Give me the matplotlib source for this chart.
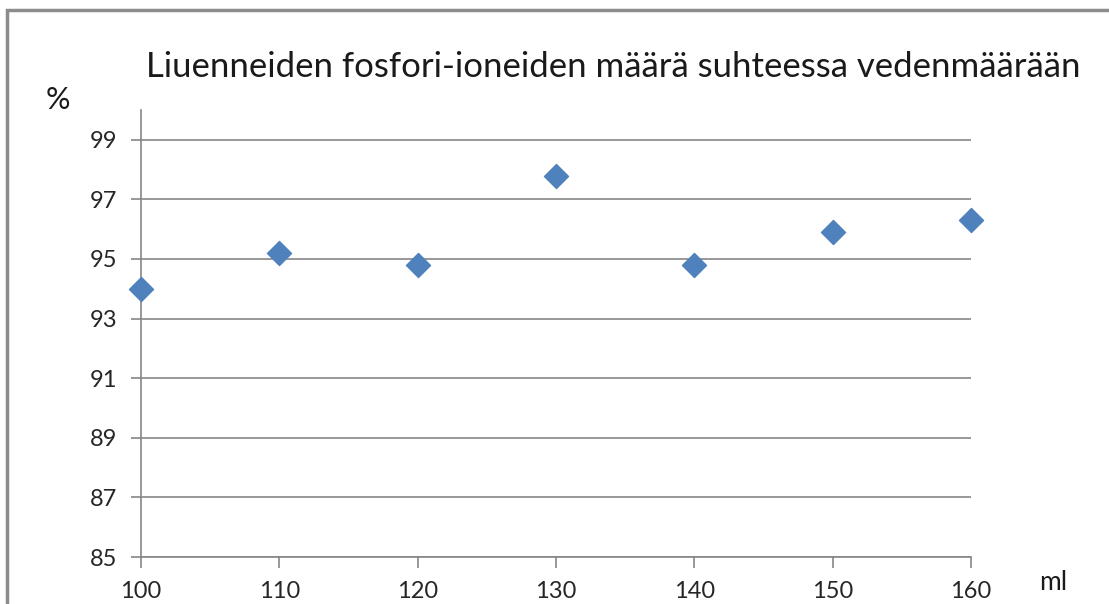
import matplotlib.pyplot as plt
from matplotlib.patches import Rectangle

# data
volume_ml = [100, 110, 120, 130, 140, 150, 160]
dissolved_pct = [94.0, 95.2, 94.8, 97.8, 94.8, 95.9, 96.3]
y_ticks = [85, 87, 89, 91, 93, 95, 97, 99]
x_ticks = [100, 110, 120, 130, 140, 150, 160]

plt.rcParams['font.family'] = ['Lato', 'DejaVu Sans']

fig = plt.figure(figsize=(11.09, 6.04), dpi=100)
ax = fig.add_axes([0.1271, 0.0778, 0.8756 - 0.1271, 0.8179 - 0.0778])

# outer chart frame
fig.patches.append(Rectangle((7 / 1109, -0.05), 1.1, 1 - 10 / 604 + 0.05,
                             transform=fig.transFigure, fill=False,
                             edgecolor='#8c8c8c', linewidth=2.5))

ax.scatter(volume_ml, dissolved_pct, marker='D', s=150, color='#4F81BD',
           zorder=3, clip_on=False)

ax.set_xlim(100, 160)
ax.set_ylim(85, 100)
ax.set_yticks(y_ticks)
ax.set_xticks(x_ticks)
ax.grid(axis='y', color='#868686', linewidth=1.2)
ax.set_axisbelow(True)

for side in ['top', 'right']:
    ax.spines[side].set_visible(False)
for side in ['left', 'bottom']:
    ax.spines[side].set_color('#868686')
    ax.spines[side].set_linewidth(1.2)

ax.tick_params(axis='y', direction='out', length=7, width=1.2, color='#868686',
               labelsize=17, pad=10, labelcolor='#262626')
ax.tick_params(axis='x', direction='out', length=8, width=1.2, color='#868686',
               labelsize=17, pad=9, labelcolor='#262626')

fig.text(0.553, 0.889, 'Liuenneiden fosfori-ioneiden määrä suhteessa vedenmäärään',
         ha='center', va='center', fontsize=25, color='#1a1a1a')
fig.text(0.052, 0.835, '%', ha='center', va='center', fontsize=22, color='#1a1a1a')
fig.text(0.950, 0.036, 'ml', ha='center', va='center', fontsize=19, color='#1a1a1a')

fig.savefig('out.png', dpi=100)
